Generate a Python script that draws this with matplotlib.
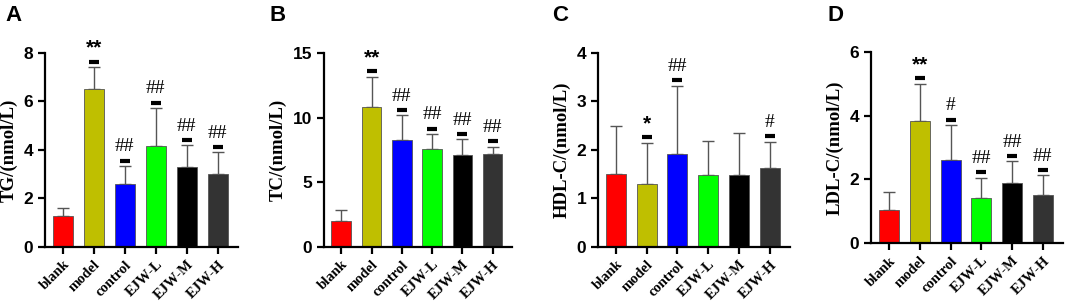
import matplotlib.pyplot as plt

groups = ["blank", "model", "control", "EJW-L", "EJW-M", "EJW-H"]
colors = ["#FF0000", "#BFBF00", "#0000FF", "#00FF00", "#000000", "#333333"]

tg_mean = [1.28, 6.5, 2.58, 4.16, 3.31, 3.0]
tg_err = [0.34, 0.9, 0.76, 1.57, 0.88, 0.9]
tg_sig = ["", "**", "##", "##", "##", "##"]

tc_mean = [2.0, 10.8, 8.28, 7.56, 7.13, 7.18]
tc_err = [0.83, 2.35, 1.9, 1.16, 1.2, 0.56]
tc_sig = ["", "**", "##", "##", "##", "##"]

hdl_mean = [1.51, 1.3, 1.91, 1.48, 1.49, 1.63]
hdl_err = [0.99, 0.85, 1.41, 0.71, 0.86, 0.54]
hdl_sig = ["", "*", "##", "", "", "#"]

ldl_mean = [1.05, 3.82, 2.6, 1.42, 1.88, 1.51]
ldl_err = [0.55, 1.18, 1.11, 0.63, 0.69, 0.61]
ldl_sig = ["", "**", "#", "##", "##", "##"]

panels = [
    ("A", "TG/(nmol/L)", tg_mean, tg_err, tg_sig, 8, [0, 2, 4, 6, 8]),
    ("B", "TC/(nmol/L)", tc_mean, tc_err, tc_sig, 15, [0, 5, 10, 15]),
    ("C", "HDL-C/(nmol/L)", hdl_mean, hdl_err, hdl_sig, 4, [0, 1, 2, 3, 4]),
    ("D", "LDL-C/(nmol/L)", ldl_mean, ldl_err, ldl_sig, 6, [0, 2, 4, 6]),
]

# axes boxes [left, bottom, width, height] in figure fraction
boxes = [
    [0.0423, 0.193, 0.181, 0.634],
    [0.304, 0.193, 0.177, 0.634],
    [0.5615, 0.193, 0.18, 0.634],
    [0.818, 0.206, 0.18, 0.624],
]
letter_x = [0.005, 0.253, 0.518, 0.777]

fig = plt.figure(figsize=(10.65, 3.06), dpi=100)

for (letter, ylabel, mean, err, sig, ymax, yticks), box, lx in zip(panels, boxes, letter_x):
    ax = fig.add_axes(box)
    x = list(range(len(groups)))
    ax.bar(x, mean, width=0.65, color=colors, edgecolor="#555555", linewidth=0.6, zorder=2)
    ax.errorbar(x, mean, yerr=[[0] * len(mean), err], fmt="none", ecolor="#555555",
                elinewidth=1.0, capsize=4, capthick=1.0, zorder=1)
    for xi, m, e, s in zip(x, mean, err, sig):
        if not s:
            continue
        top = m + e
        ax.plot(xi, top + 0.028 * ymax, marker="_", markersize=7, markeredgewidth=3,
                color="black", zorder=3)
        if "*" in s:
            ax.text(xi, top + 0.05 * ymax, s, ha="center", va="bottom", fontsize=15,
                    fontweight="bold", family="Liberation Sans")
        else:
            ax.text(xi, top + 0.055 * ymax, s, ha="center", va="bottom", fontsize=14,
                    family="Liberation Serif")
    ax.set_xlim(-0.58, 5.65)
    ax.set_ylim(0, ymax)
    ax.set_yticks(yticks)
    ax.set_xticks(x)
    ax.set_xticklabels(groups, rotation=45, ha="right", rotation_mode="anchor",
                       family="Liberation Serif", fontweight="bold", fontsize=10.5)
    for lab in ax.get_yticklabels():
        lab.set_family("Liberation Sans")
        lab.set_fontweight("bold")
        lab.set_fontsize(12.5)
    ax.set_ylabel(ylabel, family="Liberation Serif", fontweight="bold", fontsize=13.5, labelpad=4)
    for side in ["top", "right"]:
        ax.spines[side].set_visible(False)
    for side in ["left", "bottom"]:
        ax.spines[side].set_linewidth(1.6)
    ax.tick_params(direction="out", length=5, width=1.6)
    ax.tick_params(axis="x", pad=3)
    fig.text(lx, 0.985, letter, ha="left", va="top", fontsize=16, fontweight="bold",
             family="Liberation Sans")

fig.savefig("out.png", dpi=100)
